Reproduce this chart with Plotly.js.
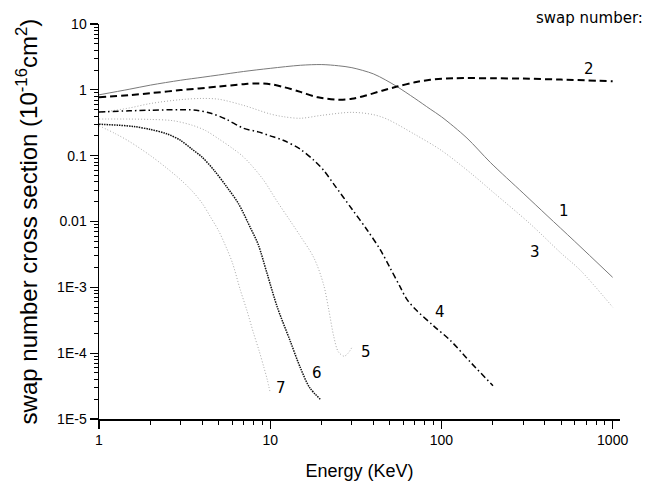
<!DOCTYPE html>
<html>
<head>
<meta charset="utf-8">
<script src="https://cdn.plot.ly/plotly-3.0.1.min.js"></script>
<style>html,body{margin:0;padding:0;background:#fff;}#chart{width:655px;height:485px;}</style>
</head>
<body>
<div id="chart"></div>
<script>
// Energy (KeV) and cross sections (10^-16 cm^2) for each swap number
var c1E = [1, 1.5, 2, 3, 4, 5, 7, 10, 15, 20, 25, 30, 40, 47, 55, 70, 86, 100, 141, 193, 300, 414, 600, 1000];
var c1S = [0.84, 1.02, 1.18, 1.4, 1.55, 1.68, 1.9, 2.12, 2.36, 2.42, 2.32, 2.17, 1.75, 1.42, 1.12, 0.74, 0.51, 0.39, 0.185, 0.079, 0.027, 0.0123, 0.005, 0.00142];

var c2E = [1, 1.5, 2, 3, 5, 7, 8.5, 10, 12, 15, 19, 25, 30, 35, 45, 55, 70, 86, 120, 200, 300, 500, 1000];
var c2S = [0.77, 0.83, 0.89, 0.99, 1.12, 1.22, 1.25, 1.22, 1.1, 0.93, 0.77, 0.71, 0.73, 0.8, 0.97, 1.12, 1.3, 1.42, 1.5, 1.5, 1.48, 1.43, 1.35];

var c3E = [1, 1.5, 2, 3, 4, 5, 7, 10, 12, 15, 20, 30, 40, 48, 70, 100, 150, 200, 330, 500, 650, 1000];
var c3S = [0.45, 0.53, 0.62, 0.71, 0.74, 0.72, 0.58, 0.43, 0.39, 0.37, 0.41, 0.455, 0.42, 0.36, 0.21, 0.12, 0.053, 0.028, 0.0092, 0.0033, 0.0018, 0.0005];

var c4E = [1, 1.5, 2, 3, 3.7, 4.5, 5.5, 7, 8.5, 10, 12, 15, 18, 20.5, 23.5, 30, 37, 44, 50, 57, 63, 72, 90, 113, 150, 200];
var c4S = [0.46, 0.48, 0.49, 0.5, 0.49, 0.44, 0.36, 0.26, 0.23, 0.2, 0.17, 0.125, 0.085, 0.06, 0.037, 0.0155, 0.0073, 0.0037, 0.002, 0.00105, 0.00065, 0.00044, 0.00026, 0.000155, 0.00007, 0.000032];

var c5E = [1, 1.5, 2, 2.7, 3.5, 4.2, 5, 6, 7, 9, 11, 13, 15, 18, 20.5, 22, 23.5, 25, 27, 28.5, 30];
var c5S = [0.36, 0.36, 0.355, 0.34, 0.29, 0.24, 0.18, 0.13, 0.095, 0.045, 0.02, 0.0105, 0.006, 0.0028, 0.0011, 0.00045, 0.00018, 0.000105, 0.00009, 0.0001, 0.000122];

var c6E = [1, 1.3, 1.6, 2, 2.5, 3, 3.5, 4, 4.7, 5.6, 6.5, 7.7, 8.5, 9.6, 11, 13, 15, 17, 19.6];
var c6S = [0.3, 0.29, 0.277, 0.25, 0.214, 0.17, 0.125, 0.095, 0.06, 0.033, 0.019, 0.0078, 0.0045, 0.0016, 0.0005, 0.00016, 0.00006, 0.00003, 0.00002];

var c7E = [1, 1.25, 1.5, 2, 2.5, 3, 3.5, 4, 4.5, 5, 5.5, 6, 6.7, 7.3, 8, 8.6, 9.2, 9.6, 10];
var c7S = [0.285, 0.215, 0.165, 0.1, 0.064, 0.043, 0.029, 0.019, 0.0115, 0.0072, 0.0042, 0.0024, 0.0009, 0.00045, 0.0002, 0.00011, 0.00006, 0.00004, 0.000025];

var xTickVals = [1, 10, 100, 1000];
var xTickText = ['1', '10', '100', '1000'];
var yTickVals = [10, 1, 0.1, 0.01, 0.001, 0.0001, 0.00001];
var yTickText = ['10', '1', '0.1', '0.01', '1E-3', '1E-4', '1E-5'];
var curveLabels = ['1', '2', '3', '4', '5', '6', '7'];

function minorTicks(lo, hi) {
  var v = [];
  for (var d = lo; d < hi; d++) {
    for (var k = 2; k <= 9; k++) v.push(k * Math.pow(10, d));
  }
  return v;
}

var styles = [
  {color: '#7a7a7a', width: 1, dash: 'solid'},
  {color: '#000000', width: 2, dash: '7px,4px'},
  {color: '#a8a8a8', width: 1, dash: '1px,2px'},
  {color: '#000000', width: 1.5, dash: '6px,3px,1.5px,3px'},
  {color: '#a8a8a8', width: 1, dash: '1px,2px'},
  {color: '#111111', width: 1.5, dash: '1.5px,1px'},
  {color: '#a8a8a8', width: 1, dash: '1px,2px'}
];
var xs = [c1E, c2E, c3E, c4E, c5E, c6E, c7E];
var ys = [c1S, c2S, c3S, c4S, c5S, c6S, c7S];

var traces = xs.map(function (x, i) {
  return {
    x: x, y: ys[i], type: 'scatter', mode: 'lines',
    line: {color: styles[i].color, width: styles[i].width, dash: styles[i].dash, shape: 'spline', smoothing: 0.9},
    showlegend: false, hoverinfo: 'skip'
  };
});

// label anchor positions (log10 coordinates)
var labelPos = [[2.713, -1.834], [2.859, 0.319], [2.548, -2.468], [1.99, -3.38], [1.56, -3.977], [1.274, -4.30], [1.065, -4.535]];
var annotations = curveLabels.map(function (t, i) {
  return {x: labelPos[i][0], y: labelPos[i][1], xref: 'x', yref: 'y', text: t, showarrow: false,
    font: {family: 'DejaVu Sans', size: 15, color: '#000'}, xanchor: 'center', yanchor: 'middle'};
});
annotations.push({x: 1.048, y: 1.015, xref: 'paper', yref: 'paper', text: 'swap number:', showarrow: false,
  font: {family: 'DejaVu Sans', size: 15, color: '#000'}, xanchor: 'right', yanchor: 'middle'});

var layout = {
  width: 655, height: 485,
  margin: {l: 99, r: 35, t: 24, b: 66},
  paper_bgcolor: '#fff', plot_bgcolor: '#fff',
  font: {family: 'Liberation Sans, Arial, sans-serif', color: '#000'},
  xaxis: {
    type: 'log', range: [0, 3.043], showgrid: false, zeroline: false,
    showline: true, linecolor: '#000', linewidth: 1.5, mirror: false,
    tickmode: 'array', tickvals: xTickVals, ticktext: xTickText,
    ticks: 'outside', ticklen: 8, tickwidth: 1.2, tickcolor: '#000',
    tickfont: {family: 'Liberation Sans, Arial', size: 14, color: '#000'},
    minor: {tickmode: 'array', tickvals: minorTicks(0, 3), ticks: 'outside', ticklen: 4, tickwidth: 1, tickcolor: '#000', showgrid: false},
    title: {text: 'Energy (KeV)', font: {family: 'Liberation Sans, Arial', size: 18, color: '#000'}, standoff: 17}
  },
  yaxis: {
    type: 'log', range: [-5, 1], showgrid: false, zeroline: false,
    showline: true, linecolor: '#000', linewidth: 1.5, mirror: false,
    tickmode: 'array', tickvals: yTickVals, ticktext: yTickText,
    ticks: 'outside', ticklen: 8, tickwidth: 1.2, tickcolor: '#000',
    tickfont: {family: 'Liberation Sans, Arial', size: 14, color: '#000'},
    minor: {tickmode: 'array', tickvals: minorTicks(-5, 1), ticks: 'outside', ticklen: 4, tickwidth: 1, tickcolor: '#000', showgrid: false},
    title: {text: 'swap number cross section (10<sup>-16</sup>cm<sup>2</sup>)', font: {family: 'Liberation Sans, Arial', size: 24, color: '#000'}, standoff: 12}
  },
  annotations: annotations
};

Plotly.newPlot('chart', traces, layout, {staticPlot: true, displayModeBar: false});
</script>
</body>
</html>
